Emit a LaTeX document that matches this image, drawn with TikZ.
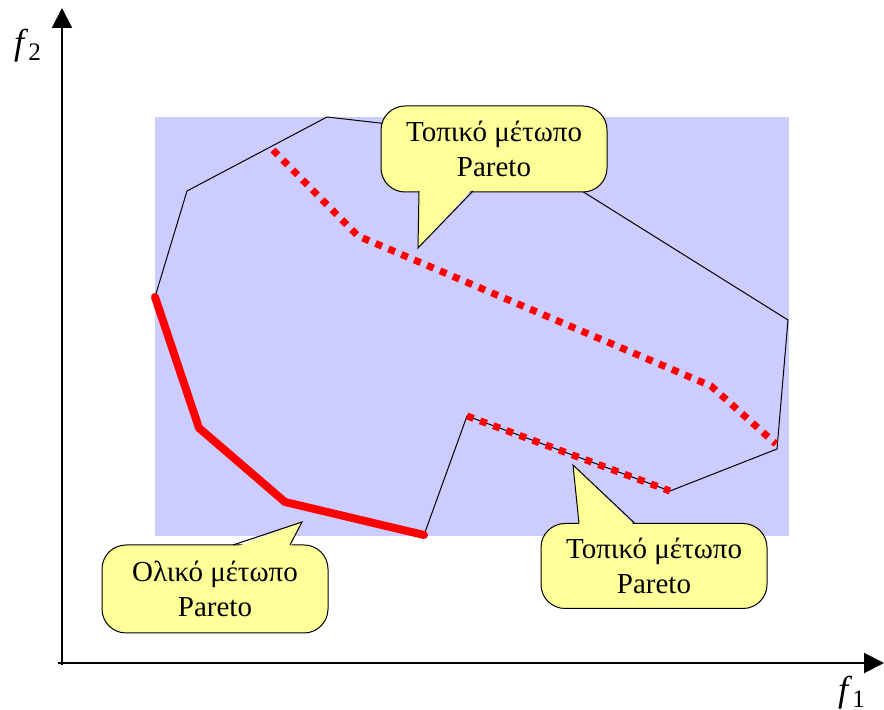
\documentclass[tikz,border=0pt]{standalone}
\usepackage{fontspec}
\setmainfont{Liberation Serif}
\usetikzlibrary{arrows.meta}
\definecolor{areablue}{RGB}{204,204,255}
\definecolor{bubbleyellow}{RGB}{255,255,153}
\definecolor{frontred}{RGB}{255,0,0}

\tikzset{
  axis/.style={line width=1pt, -{Triangle[length=10pt,width=10pt]}},
  bubble/.style={fill=bubbleyellow, draw=black, line width=0.5pt, rounded corners=12pt,
    align=center, inner sep=0pt, minimum width=113pt, font=\fontsize{14.5}{17.5}\selectfont},
  axislabel/.style={font=\fontsize{18}{20}\selectfont, inner sep=0pt},
  globalfront/.style={frontred, line width=4pt, line cap=round, line join=round},
  localfront/.style={frontred, line width=3.5pt, dash pattern=on 3.5pt off 3.5pt},
  edge/.style={black, line width=0.5pt, line join=miter}
}

\begin{document}
\begin{tikzpicture}[x=0.5pt,y=-0.5pt]
\useasboundingbox (0,0) rectangle (884,710);

%Region of feasible objectives
\fill[areablue] (155,117) rectangle (789,536);

%Polygon vertices
\coordinate (p1) at (155,297);
\coordinate (p2) at (187,191);
\coordinate (p3) at (327,117);
\coordinate (p4) at (494,136);
\coordinate (p5) at (788,320);
\coordinate (p6) at (777,449);
\coordinate (p7) at (670,491);
\coordinate (p8) at (467,416);
\coordinate (p9) at (424,535);
\coordinate (p10) at (285,502);
\coordinate (p11) at (199,428);
\draw[edge] (p1) -- (p2) -- (p3) -- (p4) -- (p5) -- (p6) -- (p7) -- (p8) -- (p9);

%Global front
\draw[globalfront] (p9) -- (p10) -- (p11) -- (p1);

%Local front 1
\coordinate (q1) at (273,150);
\coordinate (q2) at (358,236);
\coordinate (q3) at (711,386);
\coordinate (q4) at (776,444);
\draw[localfront] (q1) -- (q2) -- (q3) -- (q4);

%Local front 2
\draw[localfront] (p8) -- (p7);

%Axes
\coordinate (origin) at (62,663);
\coordinate (ytip) at (62,8);
\coordinate (xtip) at (884,663);
\draw[axis] ([yshift=-1pt]origin) -- (ytip);
\draw[axis] ([xshift=-2pt]origin) -- (xtip);
\node[axislabel] (f2) at (28,46) {\textit{f}\textsubscript{2}};
\node[axislabel] (f1) at (852,693) {\textit{f}\textsubscript{1}};

%Callout local front (top)
\node[bubble, minimum height=43pt] (top) at (494,149) {Τοπικό μέτωπο\\Pareto};
\coordinate (toptip) at (418,248);
\fill[bubbleyellow] (419,188) -- (toptip) -- (473,188) -- cycle;
\draw[edge] (419,191) -- (toptip) -- (473,191);

%Callout global front
\node[bubble, minimum height=44pt] (global) at (215,589) {Ολικό μέτωπο\\Pareto};
\coordinate (globaltip) at (302,522);
\fill[bubbleyellow] (233,548) -- (globaltip) -- (290,548) -- cycle;
\draw[edge] (233,545) -- (globaltip) -- (290,545);

%Callout local front (bottom)
\node[bubble, minimum height=42.5pt] (bottom) at (654,566) {Τοπικό μέτωπο\\Pareto};
\coordinate (bottomtip) at (573,465);
\fill[bubbleyellow] (579,526) -- (bottomtip) -- (635,526) -- cycle;
\draw[edge] (579,523.5) -- (bottomtip) -- (635,523.5);
\end{tikzpicture}
\end{document}
